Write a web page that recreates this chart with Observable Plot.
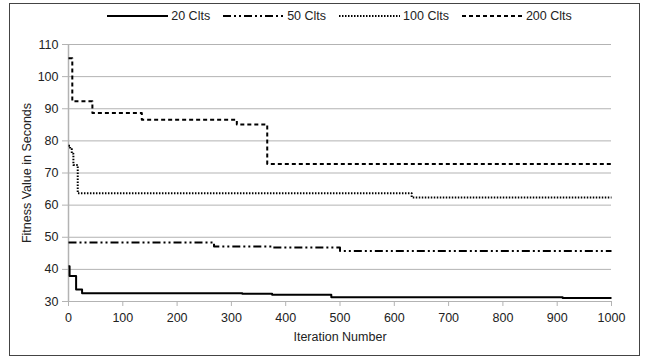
<!DOCTYPE html>
<html><head><meta charset="utf-8">
<script src="https://cdn.jsdelivr.net/npm/d3@7"></script>
<script src="https://cdn.jsdelivr.net/npm/@observablehq/plot@0.6"></script>
<style>
body{margin:0;background:#fff;}
#wrap{position:relative;width:647px;height:360px;font-family:"Liberation Sans",Arial,sans-serif;color:#222;}
#frame{position:absolute;left:9px;top:3px;width:631px;height:353px;border:1px solid #444;box-sizing:border-box;pointer-events:none;}
#legend{position:absolute;top:9px;left:68px;width:543px;display:flex;justify-content:center;align-items:center;font-size:12.5px;gap:13px;}
#legend .item{display:flex;align-items:center;white-space:nowrap;}
#legend svg{margin-right:3px;}
#chart{position:absolute;left:0;top:0;}
</style>
</head><body>
<div id="wrap"><div id="chart"></div><div id="legend"></div><div id="frame"></div></div>
<script>
// Series names and line styles
const seriesNames = ["20 Clts", "50 Clts", "100 Clts", "200 Clts"];
const dashes = [null, "8,3,2,3,2,3", "1.5,1.5", "4,3"];

// Step points: iteration where each new fitness value starts
const iter20 = [0, 2, 14, 25, 320, 375, 484, 910, 1000];
const fit20  = [41, 37.9, 33.7, 32.6, 32.4, 32.1, 31.3, 31.1, 31.1];

const iter50 = [0, 268, 377, 500, 1000];
const fit50  = [48.4, 47.1, 46.8, 45.7, 45.7];

const iter100 = [0, 3, 6, 9, 17, 632, 1000];
const fit100  = [78.5, 77.5, 76, 72.5, 63.7, 62.4, 62.4];

const iter200 = [0, 7, 44, 135, 310, 366, 1000];
const fit200  = [105.7, 92.3, 88.7, 86.6, 85.1, 72.8, 72.8];

// Axis ticks
const xTicks = [0, 100, 200, 300, 400, 500, 600, 700, 800, 900, 1000];
const yTicks = [30, 40, 50, 60, 70, 80, 90, 100, 110];

const iters = [iter20, iter50, iter100, iter200];
const fits = [fit20, fit50, fit100, fit200];
const series = iters.map((xs, i) => xs.map((x, j) => ({x, y: fits[i][j]})));

const lineMarks = series.map((data, i) => Plot.line(data, {
  x: "x", y: "y", curve: "step-after", stroke: "#000", strokeWidth: 2,
  strokeDasharray: dashes[i] || undefined, strokeLinecap: "butt"
}));

const chart = Plot.plot({
  width: 647, height: 360,
  marginLeft: 68, marginRight: 36, marginTop: 44, marginBottom: 59,
  style: {fontFamily: "'Liberation Sans', Arial, sans-serif", fontSize: "12.5px", background: "transparent"},
  x: {domain: [0, 1000]},
  y: {domain: [30, 110]},
  marks: [
    Plot.gridY(yTicks, {stroke: "#b3b3b3", strokeOpacity: 1, strokeWidth: 1}),
    Plot.ruleX([0], {stroke: "#b3b3b3", strokeWidth: 1.5}),
    Plot.axisY(yTicks, {tickSize: 6, text: null, stroke: "#b3b3b3", strokeOpacity: 1, label: null}),
    Plot.axisY(yTicks, {tickSize: 0, tickPadding: 10, fill: "#222", tickFormat: d => String(d), label: "Fitness Value in Seconds", labelAnchor: "center", labelOffset: 46, labelArrow: "none", fontSize: 12.5}),
    Plot.axisX(xTicks, {tickSize: 5, text: null, stroke: "#b3b3b3", strokeOpacity: 1, label: null}),
    Plot.axisX(xTicks, {tickSize: 0, tickPadding: 12, fill: "#222", tickFormat: d => String(d), label: "Iteration Number", labelAnchor: "center", labelOffset: 39, labelArrow: "none", fontSize: 12.5}),
    ...lineMarks
  ]
});
document.getElementById("chart").appendChild(chart);

// Legend
const legend = document.getElementById("legend");
seriesNames.forEach((name, i) => {
  const item = document.createElement("div");
  item.className = "item";
  const ns = "http://www.w3.org/2000/svg";
  const svg = document.createElementNS(ns, "svg");
  svg.setAttribute("width", 61); svg.setAttribute("height", 6);
  const ln = document.createElementNS(ns, "line");
  ln.setAttribute("x1", 0); ln.setAttribute("x2", 61);
  ln.setAttribute("y1", 3); ln.setAttribute("y2", 3);
  ln.setAttribute("stroke", "#000"); ln.setAttribute("stroke-width", 2);
  if (dashes[i]) ln.setAttribute("stroke-dasharray", dashes[i]);
  svg.appendChild(ln);
  const t = document.createElement("span");
  t.textContent = name;
  item.appendChild(svg); item.appendChild(t);
  legend.appendChild(item);
});
</script>
</body></html>
